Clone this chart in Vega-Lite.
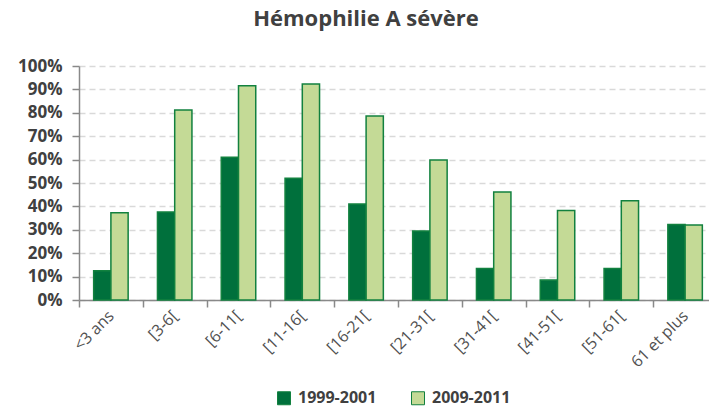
{
  "$schema": "https://vega.github.io/schema/vega-lite/v6.json",
  "autosize": {"type": "none"},
  "padding": {"left": 79, "top": 66, "right": 0, "bottom": 108},
  "width": 630,
  "height": 234,
  "background": "white",
  "title": {
    "text": "Hémophilie A sévère",
    "font": "Open Sans",
    "fontSize": 22,
    "fontWeight": "bold",
    "color": "#404040",
    "anchor": "middle",
    "frame": "group",
    "dx": -28,
    "offset": 26
  },
  "config": {
    "view": {"stroke": null},
    "font": "Open Sans"
  },
  "data": {
    "values": [
      {"age": "<3 ans", "periode": "1999-2001", "valeur": 0.125},
      {"age": "<3 ans", "periode": "2009-2011", "valeur": 0.373},
      {"age": "[3-6[", "periode": "1999-2001", "valeur": 0.376},
      {"age": "[3-6[", "periode": "2009-2011", "valeur": 0.812},
      {"age": "[6-11[", "periode": "1999-2001", "valeur": 0.61},
      {"age": "[6-11[", "periode": "2009-2011", "valeur": 0.916},
      {"age": "[11-16[", "periode": "1999-2001", "valeur": 0.52},
      {"age": "[11-16[", "periode": "2009-2011", "valeur": 0.923},
      {"age": "[16-21[", "periode": "1999-2001", "valeur": 0.41},
      {"age": "[16-21[", "periode": "2009-2011", "valeur": 0.786},
      {"age": "[21-31[", "periode": "1999-2001", "valeur": 0.295},
      {"age": "[21-31[", "periode": "2009-2011", "valeur": 0.598},
      {"age": "[31-41[", "periode": "1999-2001", "valeur": 0.135},
      {"age": "[31-41[", "periode": "2009-2011", "valeur": 0.462},
      {"age": "[41-51[", "periode": "1999-2001", "valeur": 0.085},
      {"age": "[41-51[", "periode": "2009-2011", "valeur": 0.382},
      {"age": "[51-61[", "periode": "1999-2001", "valeur": 0.135},
      {"age": "[51-61[", "periode": "2009-2011", "valeur": 0.424},
      {"age": "61 et plus", "periode": "1999-2001", "valeur": 0.323},
      {"age": "61 et plus", "periode": "2009-2011", "valeur": 0.32}
    ]
  },
  "mark": {"type": "bar", "stroke": "#12813f", "strokeWidth": 1.5},
  "encoding": {
    "x": {
      "field": "age",
      "type": "nominal",
      "sort": null,
      "scale": {"paddingInner": 0, "paddingOuter": 0, "range": [0, 638]},
      "axis": {
        "title": null,
        "tickBand": "extent",
        "labelAngle": -45,
        "labelAlign": "right",
        "labelBaseline": "middle",
        "labelFont": "Open Sans",
        "labelFontSize": 16,
        "labelColor": "#505050",
        "labelPadding": 6,
        "domainColor": "#898989",
        "domainWidth": 1.5,
        "tickColor": "#898989",
        "tickWidth": 1.5,
        "tickSize": 7,
        "grid": false
      }
    },
    "xOffset": {
      "field": "periode",
      "type": "nominal",
      "scale": {"paddingOuter": 0.85, "paddingInner": 0}
    },
    "y": {
      "field": "valeur",
      "type": "quantitative",
      "scale": {"domain": [0, 1]},
      "axis": {
        "title": null,
        "format": ".0%",
        "values": [0, 0.1, 0.2, 0.3, 0.4, 0.5, 0.6, 0.7, 0.8, 0.9, 1],
        "labelFont": "Open Sans",
        "labelFontSize": 17,
        "labelFontWeight": "bold",
        "labelColor": "#404040",
        "labelPadding": 10,
        "domain": true,
        "domainColor": "#898989",
        "domainWidth": 1.5,
        "tickColor": "#898989",
        "tickWidth": 1.5,
        "tickSize": 7,
        "grid": true,
        "gridColor": "#d9d9d9",
        "gridWidth": 1.5,
        "gridDash": [6, 4]
      }
    },
    "color": {
      "field": "periode",
      "type": "nominal",
      "scale": {"domain": ["1999-2001", "2009-2011"], "range": ["#00703c", "#c4da96"]},
      "legend": {
        "title": null,
        "orient": "none",
        "direction": "horizontal",
        "legendX": 197,
        "legendY": 324,
        "symbolType": "square",
        "symbolSize": 169,
        "symbolStrokeColor": "#12813f",
        "symbolStrokeWidth": 1,
        "labelFont": "Open Sans",
        "labelFontSize": 16,
        "labelFontWeight": "bold",
        "labelColor": "#404040",
        "labelOffset": 6,
        "columnPadding": 32
      }
    }
  }
}
